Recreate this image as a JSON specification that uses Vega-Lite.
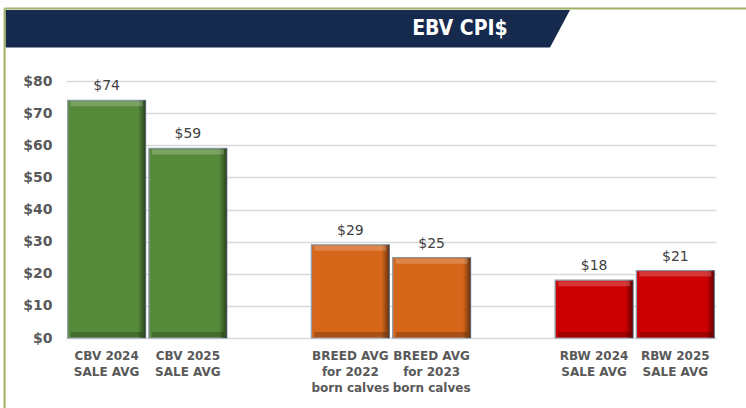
{
  "$schema": "https://vega.github.io/schema/vega-lite/v6.json",
  "width": 650,
  "height": 257,
  "autosize": "none",
  "padding": {"left": 66, "top": 81, "right": 30, "bottom": 70},
  "background": "white",
  "config": {"view": {"stroke": null}},
  "datasets": {
    "bars": [
      {"cat": "CBV 2024|SALE AVG", "group": "CBV", "value": 74},
      {"cat": "CBV 2025|SALE AVG", "group": "CBV", "value": 59},
      {"cat": "BREED AVG|for 2022|born calves", "group": "BREED", "value": 29},
      {"cat": "BREED AVG|for 2023|born calves", "group": "BREED", "value": 25},
      {"cat": "RBW 2024|SALE AVG", "group": "RBW", "value": 18},
      {"cat": "RBW 2025|SALE AVG", "group": "RBW", "value": 21}
    ],
    "banner": [
      {"bx": -0.0931, "top": 102.1, "bot": 90.4},
      {"bx": 0.7446, "top": 102.1, "bot": 90.4},
      {"bx": 0.7754, "top": 102.1, "bot": 102.1}
    ]
  },
  "layer": [
    {
      "layer": [
        {
          "data": {"name": "banner"},
          "mark": {"type": "area", "color": "#162a4e", "interpolate": "linear"},
          "encoding": {
            "x": {"field": "bx", "type": "quantitative", "axis": null, "scale": {"domain": [0, 1], "nice": false, "zero": false}},
            "y": {"field": "top", "type": "quantitative", "axis": null, "scale": {"domain": [0, 80], "nice": false}},
            "y2": {"field": "bot"}
          }
        },
        {
          "data": {"values": [{}]},
          "mark": {"type": "text", "text": "EBV CPI$", "font": "DejaVu Sans Condensed, DejaVu Sans", "fontWeight": "bold", "fontSize": 21, "color": "white", "align": "center", "baseline": "alphabetic"},
          "encoding": {
            "x": {"datum": 0.606, "type": "quantitative"},
            "y": {"datum": 94.3, "type": "quantitative"}
          }
        },
        {
          "data": {"values": [{}]},
          "mark": {"type": "rule", "color": "#9fb163", "strokeWidth": 2},
          "encoding": {
            "x": {"datum": -0.0945, "type": "quantitative"},
            "x2": {"datum": 1.2},
            "y": {"datum": 102.57, "type": "quantitative"}
          }
        },
        {
          "data": {"values": [{}]},
          "mark": {"type": "rule", "color": "#9fb163", "strokeWidth": 2},
          "encoding": {
            "x": {"datum": -0.0945, "type": "quantitative"},
            "y": {"datum": 102.57, "type": "quantitative"},
            "y2": {"datum": -40}
          }
        }
      ]
    },
    {
      "data": {"name": "bars"},
      "encoding": {
        "x": {
          "field": "cat",
          "type": "nominal",
          "sort": null,
          "scale": {
            "domain": ["CBV 2024|SALE AVG", "CBV 2025|SALE AVG", "gap1", "BREED AVG|for 2022|born calves", "BREED AVG|for 2023|born calves", "gap2", "RBW 2024|SALE AVG", "RBW 2025|SALE AVG"],
            "paddingInner": 0.04,
            "paddingOuter": 0.02
          },
          "axis": {
            "orient": "bottom",
            "title": null,
            "labelAngle": 0,
            "domain": false,
            "ticks": false,
            "grid": false,
            "labelPadding": 12,
            "labelFont": "DejaVu Sans",
            "labelFontWeight": "bold",
            "labelFontSize": 12,
            "labelColor": "#595959",
            "labelLineHeight": 16,
            "labelExpr": "indexof(datum.value, 'gap') == 0 ? '' : split(datum.value, '|')"
          }
        },
        "y": {
          "field": "value",
          "type": "quantitative",
          "scale": {"domain": [0, 80], "nice": false},
          "axis": {
            "orient": "left",
            "title": null,
            "grid": true,
            "values": [0, 10, 20, 30, 40, 50, 60, 70, 80],
            "format": "$.0f",
            "domain": false,
            "ticks": false,
            "labelPadding": 14,
            "labelFont": "DejaVu Sans",
            "labelFontWeight": "bold",
            "labelFontSize": 14,
            "labelColor": "#595959",
            "gridColor": "#d9d9d9",
            "gridWidth": 1.5
          }
        }
      },
      "layer": [
        {
          "mark": {"type": "bar", "stroke": "#8a96a8", "strokeWidth": 1.2},
          "encoding": {
            "color": {"field": "group", "type": "nominal", "legend": null, "scale": {"domain": ["CBV", "BREED", "RBW"], "range": ["#558a3a", "#d6661a", "#cc0000"]}}
          }
        },
        {
          "mark": {
            "type": "bar",
            "fill": {"gradient": "linear", "x1": 0, "x2": 1, "y1": 0, "y2": 0, "stops": [
              {"offset": 0, "color": "rgba(255,255,255,0.12)"},
              {"offset": 0.04, "color": "rgba(0,0,0,0)"},
              {"offset": 0.9, "color": "rgba(0,0,0,0)"},
              {"offset": 0.96, "color": "rgba(0,0,0,0.3)"},
              {"offset": 1, "color": "rgba(0,0,0,0.55)"}
            ]}
          }
        },
        {
          "mark": {"type": "tick", "color": "rgba(255,255,255,0.3)", "thickness": 5, "size": 72, "yOffset": 3.5}
        },
        {
          "mark": {"type": "tick", "color": "rgba(0,0,0,0.3)", "thickness": 5, "size": 72, "yOffset": -3.5},
          "encoding": {"y": {"datum": 0, "type": "quantitative"}}
        },
        {
          "mark": {"type": "text", "font": "DejaVu Sans", "fontSize": 14, "color": "#404040", "baseline": "alphabetic", "dy": -10},
          "encoding": {
            "text": {"field": "value", "type": "quantitative", "format": "$.0f"}
          }
        }
      ]
    }
  ],
  "resolve": {"scale": {"x": "independent", "y": "independent"}}
}
